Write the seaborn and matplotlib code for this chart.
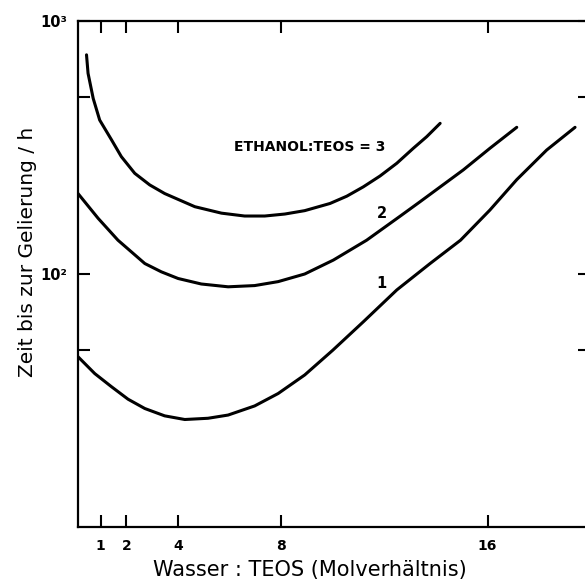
import numpy as np
import pandas as pd
import seaborn as sns
import matplotlib.pyplot as plt
from matplotlib.ticker import FixedLocator, NullLocator

# Wasser:TEOS-Verhältnis und Gelierzeit (h)
x_ethanol3 = [0.45, 0.51, 0.71, 0.96, 1.42, 1.80, 2.32, 2.90, 3.48, 4.65, 5.68, 6.58,
              7.36, 8.14, 8.91, 9.89, 10.54, 11.18, 11.83, 12.48, 13.12, 13.64, 14.16]
y_ethanol3 = [735, 621, 494, 406, 339, 291, 250, 225, 208, 184.5, 174, 169.5,
              169.5, 172.6, 178, 190, 203, 221, 244, 274, 314, 349, 394]

x_ethanol2 = [0.12, 0.90, 1.67, 2.71, 3.35, 4.0, 4.90, 5.94, 6.97, 7.88, 8.91, 10.02,
              11.31, 12.60, 13.38, 15.06, 16.09, 17.13]
y_ethanol2 = [208, 166, 136, 110, 102, 96, 91.3, 89, 90, 93.3, 100, 113.5,
              136, 169, 193, 258, 314, 380]

x_ethanol1 = [0.12, 0.77, 1.41, 2.06, 2.71, 3.48, 4.26, 5.16, 5.94, 6.97, 7.88, 8.91,
              10.0, 11.18, 12.48, 13.77, 14.95, 16.09, 17.13, 18.29, 19.39]
y_ethanol1 = [47.1, 40.4, 35.9, 32, 29.4, 27.5, 26.6, 26.9, 27.7, 30.1, 33.7, 39.9,
              50, 64.7, 86.5, 110, 136, 179, 236, 309, 380]

x_ticks = [1, 2, 4, 8, 16]
y_ticks = [50, 100, 500, 1000]
y_ticklabels = ['', '10²', '', '10³']

df = pd.concat([
    pd.DataFrame({'wasser': x_ethanol3, 'zeit': y_ethanol3, 'ethanol': '3'}),
    pd.DataFrame({'wasser': x_ethanol2, 'zeit': y_ethanol2, 'ethanol': '2'}),
    pd.DataFrame({'wasser': x_ethanol1, 'zeit': y_ethanol1, 'ethanol': '1'}),
])

sns.set_style("ticks")
plt.rcParams['font.family'] = ['DejaVu Sans']
plt.rcParams['text.color'] = 'black'
plt.rcParams['axes.labelcolor'] = 'black'
plt.rcParams['xtick.color'] = 'black'
plt.rcParams['ytick.color'] = 'black'

fig = plt.figure(figsize=(5.85, 5.85), dpi=100)
ax = fig.add_axes([78 / 585, 1 - 527 / 585, 512 / 585, 506 / 585])

sns.lineplot(data=df, x='wasser', y='zeit', units='ethanol', estimator=None,
             color='black', linewidth=2.2, ax=ax, legend=False)

ax.set_yscale('log')
ax.set_xlim(0.12, 19.97)
ax.set_ylim(10, 1000)

ax.xaxis.set_major_locator(FixedLocator(x_ticks))
ax.set_xticklabels([str(t) for t in x_ticks], fontweight='bold', fontsize=10)
ax.yaxis.set_major_locator(FixedLocator(y_ticks))
ax.yaxis.set_minor_locator(NullLocator())
ax.set_yticklabels(y_ticklabels, fontweight='bold', fontsize=10.5)

ax.tick_params(axis='both', which='major', direction='in', length=8.5, width=1.5,
               top=True, right=True)
ax.tick_params(axis='x', pad=9)
ax.tick_params(axis='y', pad=8)

for side in ['left', 'bottom', 'top']:
    ax.spines[side].set_linewidth(1.6)
    ax.spines[side].set_color('black')
ax.spines['right'].set_visible(False)

ax.set_xlabel('Wasser : TEOS (Molverhältnis)', fontsize=15)
ax.set_ylabel('Zeit bis zur Gelierung / h', fontsize=14.5)
ax.xaxis.set_label_coords(0.453, -0.066)
ax.yaxis.set_label_coords(-0.080, 0.543)

# Beschriftung der Kurven
ax.text(9.1, 318, 'ETHANOL:TEOS = 3', fontsize=10, fontweight='bold',
        ha='center', va='center')
ax.text(11.9, 174, '2', fontsize=10.5, fontweight='bold', ha='center', va='center')
ax.text(11.9, 92, '1', fontsize=10.5, fontweight='bold', ha='center', va='center')

fig.savefig('out.png', dpi=100)
